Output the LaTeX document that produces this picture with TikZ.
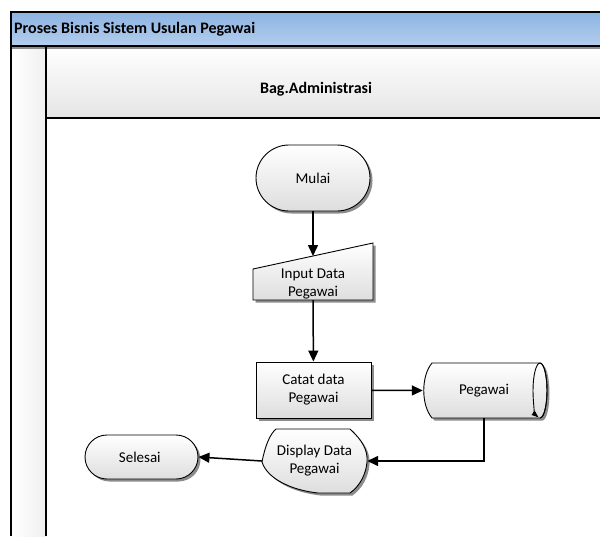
\documentclass[tikz,border=0pt]{standalone}
\usepackage{fontspec}
\setmainfont{Carlito}
\usetikzlibrary{arrows.meta,shapes.misc,shadows}
\definecolor{titletop}{HTML}{8DB3E2}
\definecolor{titlebot}{HTML}{B3CEEE}

\begin{document}
\begin{tikzpicture}[x=1pt, y=-1pt,
	every node/.style={font=\fontsize{15}{18}\selectfont, align=center, inner sep=0pt},
	head/.style={font=\fontsize{16}{19}\selectfont\bfseries},
	box/.style={draw, line width=0.9pt, top color=white, bottom color=black!13,
		drop shadow={shadow xshift=2.5pt, shadow yshift=-2.5pt, fill=black!45, opacity=1}},
	flow/.style={line width=1.5pt, -{Triangle[length=11pt, width=10pt]}}]
	\useasboundingbox (0,0) rectangle (600,536);

	\shade [top color=titletop, bottom color=titlebot] (11,12) rectangle (600,46);
	\shade [left color=white, right color=black!6] (11,46) rectangle (46,536);
	\shade [top color=white, bottom color=black!10] (46,46) rectangle (600,118);
	\draw [black!45, line width=2pt] (11,48) -- (600,48);
	\draw [line width=1.6pt] (600,12) -- (11,12) -- (11,536);
	\draw [line width=1.6pt] (11,46) -- (600,46);
	\draw [line width=1.3pt] (46,46) -- (46,536);
	\draw [line width=1.3pt] (46,118) -- (600,118);
	\node [head, anchor=west] (judul) at (14,29) {Proses Bisnis Sistem Usulan Pegawai};
	\node [head] (bagian) at (316,89) {Bag.Administrasi};

	\foreach \x/\y/\w/\h/\name/\label in {
		313/178/114/66/mulai/Mulai,
		141.5/457/113/44/selesai/Selesai
	}
	{
		\node [box, rounded rectangle, minimum width=\w pt, minimum height=\h pt] (\name) at (\x,\y) {\label};
	}

	\draw [box] (253,269) -- (373,243) -- (373,300) -- (253,300) -- cycle;
	\node [minimum height=32pt] (input) at (313,284) {Input Data\\Pegawai};
	\coordinate (inputtop) at (313,256);

	\node [box, minimum width=115pt, minimum height=56pt] (catat) at (313.5,390) {Catat data\\Pegawai};

	\draw [box] (432,363) -- (540,363) arc [start angle=90, end angle=-90, x radius=7pt, y radius=27.5pt]
		-- (432,418) .. controls (421,405) and (421,376) .. (432,363) -- cycle;
	\draw [line width=0.9pt] (540,363) arc [start angle=90, end angle=-90, x radius=7pt, y radius=27.5pt];
	\draw [line width=0.9pt, -{Triangle[length=7pt, width=5pt]}] (540,363) arc [start angle=90, end angle=258, x radius=7pt, y radius=27.5pt];
	\node [minimum width=122pt, minimum height=55pt] (pegawai) at (484,390.5) {Pegawai};

	\draw [box] (262,462) .. controls (265,446) and (270,434) .. (276,429) -- (350,429)
		.. controls (362,440) and (368,450) .. (367,462) .. controls (366,474) and (360,486) .. (350,493)
		-- (318,493) .. controls (290,490) and (267,478) .. (262,462) -- cycle;
	\node [minimum width=105pt] (display) at (314.5,461) {Display Data\\Pegawai};

	\draw [flow] (mulai) -- (inputtop);
	\draw [flow] (input) -- (catat);
	\draw [flow] (catat) -- (pegawai.west);
	\draw [flow] (pegawai.south) |- (display.east);
	\draw [flow] (display.west) -- (selesai.east);
\end{tikzpicture}
\end{document}
